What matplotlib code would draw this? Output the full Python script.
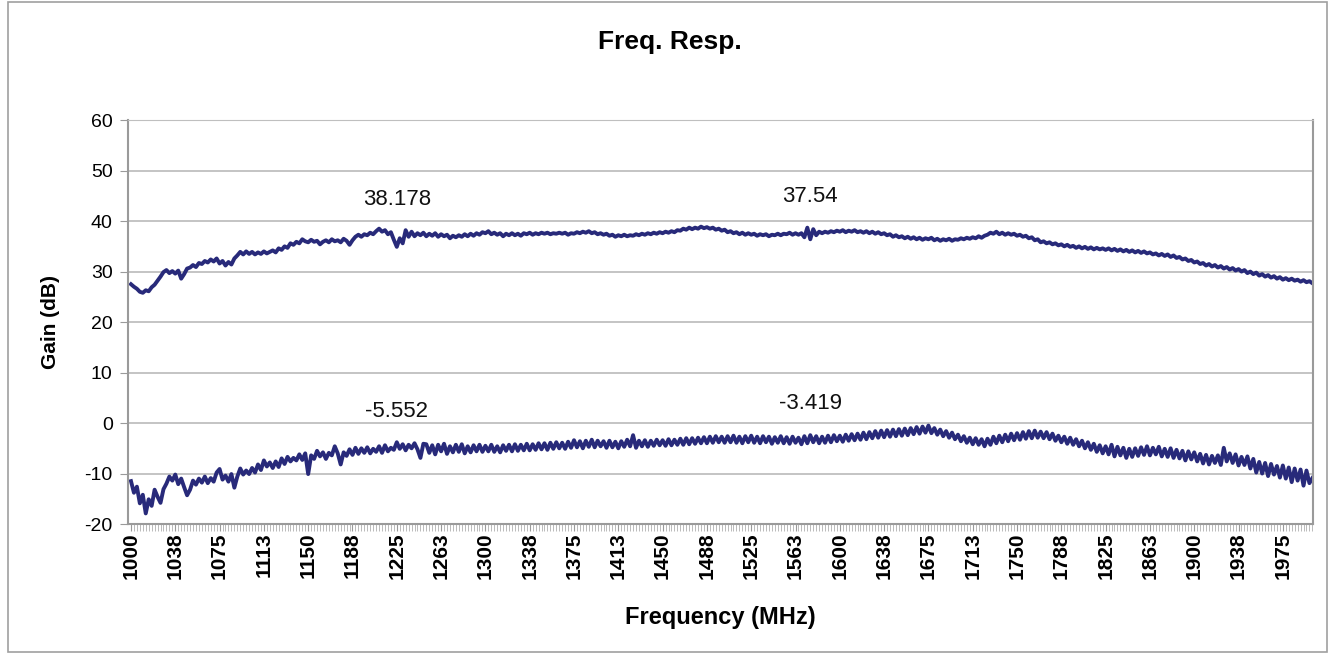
import numpy as np
import matplotlib.pyplot as plt
from matplotlib.patches import Rectangle

plt.rcParams['font.family'] = ['Liberation Sans', 'DejaVu Sans']
plt.rcParams['axes.unicode_minus'] = False

# frequency points (MHz), 2.5 MHz step, 1000..2000
freq = np.arange(1000, 2000.1, 2.5)

# upper trace (dB), one row = 25 MHz
gain_hi = [
    27.5, 27.0, 26.6, 26.0, 25.8, 26.3, 26.1, 26.9, 27.4, 28.2,
    29.0, 29.9, 30.3, 29.7, 30.1, 29.6, 30.2, 28.6, 29.5, 30.6,
    30.8, 31.3, 30.9, 31.7, 31.5, 32.1, 31.8, 32.4, 32.0, 32.6,
    31.6, 32.1, 31.2, 31.9, 31.4, 32.6, 33.2, 33.9, 33.4, 34.0,
    33.5, 33.9, 33.4, 33.8, 33.5, 34.0, 33.6, 33.9, 34.2, 33.8,
    34.6, 34.3, 35.0, 34.7, 35.6, 35.3, 35.9, 35.6, 36.4, 36.0,
    35.8, 36.3, 35.9, 36.1, 35.4, 35.9, 36.2, 35.8, 36.4, 36.0,
    36.2, 35.8, 36.5, 36.1, 35.3, 36.2, 36.9, 37.3, 36.9, 37.4,
    37.2, 37.7, 37.4, 38.0, 38.5, 37.9, 38.2, 37.4, 37.8, 36.3,
    34.9, 36.6, 35.6, 38.2, 36.9, 37.9, 37.0, 37.6, 37.2, 37.7,
    37.0, 37.5, 37.1, 37.6, 36.9, 37.4, 37.0, 37.3, 36.6, 37.1,
    36.8, 37.2, 36.9, 37.4, 37.0, 37.5, 37.1, 37.6, 37.3, 37.8,
    37.6, 38.0, 37.4, 37.7, 37.3, 37.6, 37.0, 37.5, 37.2, 37.6,
    37.2, 37.5, 37.1, 37.6, 37.4, 37.7, 37.3, 37.6, 37.4, 37.7,
    37.5, 37.7, 37.4, 37.6, 37.5, 37.7, 37.5, 37.7, 37.3, 37.6,
    37.5, 37.8, 37.6, 37.9, 37.7, 38.0, 37.6, 37.8, 37.4, 37.6,
    37.3, 37.5, 37.1, 37.3, 36.9, 37.2, 37.0, 37.3, 37.0, 37.2,
    37.1, 37.4, 37.2, 37.5, 37.3, 37.6, 37.4, 37.7, 37.5, 37.8,
    37.6, 37.9, 37.7, 38.0, 37.8, 38.2, 38.1, 38.5, 38.3, 38.7,
    38.4, 38.7, 38.5, 38.9, 38.6, 38.8, 38.5, 38.7, 38.3, 38.5,
    38.1, 38.3, 37.8, 38.0, 37.6, 37.8, 37.4, 37.7, 37.3, 37.6,
    37.3, 37.5, 37.1, 37.4, 37.2, 37.4, 37.0, 37.3, 37.2, 37.5,
    37.2, 37.5, 37.4, 37.7, 37.3, 37.6, 37.3, 37.6, 36.8, 38.7,
    36.4, 38.4, 37.2, 37.9, 37.6, 37.9, 37.7, 38.0, 37.8, 38.1,
    37.9, 38.2, 37.8, 38.1, 37.9, 38.2, 37.8, 38.0, 37.7, 38.0,
    37.6, 37.9, 37.5, 37.8, 37.4, 37.6, 37.2, 37.4, 36.9, 37.2,
    36.8, 37.0, 36.6, 36.9, 36.5, 36.8, 36.4, 36.7, 36.3, 36.6,
    36.4, 36.7, 36.2, 36.5, 36.1, 36.4, 36.2, 36.5, 36.1, 36.4,
    36.3, 36.6, 36.4, 36.7, 36.5, 36.8, 36.6, 37.0, 36.7, 37.1,
    37.3, 37.7, 37.5, 37.9, 37.4, 37.7, 37.3, 37.6, 37.3, 37.5,
    37.1, 37.3, 36.9, 37.1, 36.6, 36.8, 36.2, 36.4, 35.8, 36.0,
    35.6, 35.8, 35.4, 35.6, 35.2, 35.4, 35.0, 35.3, 34.9, 35.1,
    34.7, 35.0, 34.6, 34.9, 34.5, 34.8, 34.4, 34.7, 34.4, 34.6,
    34.3, 34.6, 34.2, 34.5, 34.1, 34.4, 34.0, 34.3, 33.9, 34.2,
    33.8, 34.1, 33.7, 34.0, 33.6, 33.8, 33.4, 33.6, 33.2, 33.5,
    33.1, 33.4, 32.9, 33.2, 32.7, 32.9, 32.4, 32.6, 32.1, 32.3,
    31.8, 32.0, 31.5, 31.7, 31.2, 31.5, 31.0, 31.3, 30.8, 31.1,
    30.6, 30.9, 30.4, 30.7, 30.2, 30.5, 30.0, 30.3, 29.7, 30.0,
    29.5, 29.8, 29.2, 29.5, 29.0, 29.3, 28.8, 29.1, 28.6, 28.9,
    28.4, 28.7, 28.3, 28.6, 28.2, 28.4, 28.0, 28.3, 27.9, 28.1,
    27.7,
]

# lower trace (dB), one row = 25 MHz
gain_lo = [
    -11.5, -13.8, -12.6, -15.9, -14.2, -17.9, -15.1, -16.4, -13.2, -14.6,
    -15.8, -13.1, -12.0, -10.6, -11.4, -10.2, -12.1, -11.0, -12.7, -14.3,
    -13.2, -11.4, -12.2, -11.0, -11.8, -10.6, -11.9, -10.9, -11.6, -9.8,
    -9.1, -11.2, -10.4, -11.6, -10.1, -12.8, -10.6, -9.0, -10.2, -9.4,
    -10.1, -8.9, -9.8, -8.2, -9.3, -7.4, -8.6, -7.8, -8.9, -7.6,
    -8.7, -7.0, -8.1, -6.7, -7.6, -6.9, -7.4, -6.2, -7.3, -6.0,
    -10.1, -6.4, -7.1, -5.5, -6.6, -5.8, -7.1, -5.9, -6.4, -4.6,
    -6.0, -8.2, -5.8, -6.5, -5.2, -6.3, -4.9, -6.1, -5.0, -5.9,
    -4.8, -6.0, -5.1, -5.7, -4.6, -5.9, -4.4, -5.6, -4.9, -5.3,
    -3.8, -5.1, -4.2, -5.4, -4.3, -5.0, -4.0, -5.2, -6.9, -4.1,
    -4.2, -5.9, -4.4, -6.2, -4.3, -5.6, -4.1, -6.1, -4.6, -5.8,
    -4.3, -5.7, -4.2, -6.0, -4.6, -5.8, -4.4, -5.6, -4.3, -5.7,
    -4.5, -5.6, -4.3, -5.7, -4.6, -5.8, -4.4, -5.5, -4.3, -5.6,
    -4.2, -5.5, -4.3, -5.4, -4.1, -5.4, -4.2, -5.3, -4.0, -5.2,
    -4.0, -5.3, -3.9, -5.1, -3.8, -5.0, -3.9, -5.1, -3.7, -4.9,
    -3.4, -4.8, -3.6, -5.0, -3.5, -4.7, -3.3, -4.8, -3.5, -4.6,
    -3.6, -4.9, -3.5, -4.8, -3.7, -5.0, -3.6, -4.7, -3.3, -4.6,
    -2.4, -4.9, -3.5, -4.6, -3.4, -4.7, -3.5, -4.5, -3.3, -4.4,
    -3.4, -4.5, -3.2, -4.4, -3.3, -4.3, -3.1, -4.3, -3.0, -4.2,
    -3.0, -4.1, -2.9, -4.0, -2.8, -4.0, -2.7, -3.9, -2.6, -3.8,
    -2.7, -3.9, -2.6, -3.8, -2.5, -3.9, -2.7, -4.0, -2.6, -3.8,
    -2.5, -3.9, -2.7, -4.0, -2.6, -3.8, -2.7, -4.1, -2.8, -3.9,
    -2.6, -4.0, -2.8, -4.1, -2.7, -3.9, -2.9, -4.2, -2.6, -4.0,
    -2.4, -3.8, -2.6, -4.0, -2.7, -3.9, -2.5, -3.8, -2.4, -3.6,
    -2.5, -3.7, -2.3, -3.5, -2.2, -3.4, -2.1, -3.3, -1.9, -3.2,
    -1.8, -3.0, -1.6, -2.9, -1.5, -2.8, -1.4, -2.7, -1.3, -2.6,
    -1.2, -2.5, -1.1, -2.4, -1.0, -2.2, -0.8, -2.1, -0.7, -1.9,
    -0.5, -2.0, -1.0, -2.3, -1.3, -2.6, -1.6, -2.9, -1.9, -3.2,
    -2.3, -3.6, -2.6, -3.9, -2.9, -4.2, -3.0, -4.3, -3.2, -4.6,
    -3.1, -4.3, -2.7, -4.0, -2.5, -3.8, -2.3, -3.6, -2.1, -3.4,
    -2.0, -3.3, -1.8, -3.1, -1.6, -3.0, -1.5, -2.9, -1.7, -3.0,
    -1.8, -3.2, -2.1, -3.5, -2.5, -3.8, -2.7, -4.1, -2.9, -4.3,
    -3.2, -4.6, -3.5, -5.0, -3.8, -5.3, -4.1, -5.7, -4.4, -6.0,
    -4.6, -6.2, -4.3, -6.6, -4.7, -6.4, -4.9, -6.9, -5.1, -6.7,
    -5.0, -6.5, -4.8, -6.3, -4.6, -6.4, -4.9, -6.2, -4.7, -6.6,
    -5.1, -6.7, -5.0, -6.9, -5.3, -7.0, -5.5, -7.4, -5.6, -7.2,
    -5.8, -7.6, -6.1, -8.0, -6.3, -8.2, -6.5, -7.9, -6.4, -8.3,
    -4.9, -7.6, -6.0, -7.9, -6.2, -8.4, -6.7, -8.3, -6.6, -9.0,
    -7.1, -9.8, -7.7, -10.0, -7.9, -10.5, -8.1, -10.2, -8.5, -10.8,
    -8.4, -11.0, -8.8, -11.7, -9.0, -11.4, -9.2, -12.4, -9.4, -11.9,
    -10.9,
]

# marker readouts
mark_freq = [1225, 1575, 1225, 1575]
mark_gain = [44.2, 44.8, 2.2, 3.8]
mark_text = ['38.178', '37.54', '-5.552', '-3.419']

# category axis labels every 37.5 MHz
tick_pos = [1000 + 37.5 * k for k in range(27)]
tick_labels = ['1000', '1038', '1075', '1113', '1150', '1188', '1225', '1263',
               '1300', '1338', '1375', '1413', '1450', '1488', '1525', '1563',
               '1600', '1638', '1675', '1713', '1750', '1788', '1825', '1863',
               '1900', '1938', '1975']

line_color = '#282A7A'
grid_color = '#BFBFBF'

fig = plt.figure(figsize=(13.35, 6.6), dpi=100)
fig.patches.append(Rectangle((0.006, 0.012), 0.988, 0.985, transform=fig.transFigure,
                             fill=False, edgecolor='#A0A0A0', linewidth=1.2))
ax = fig.add_axes([0.0959, 0.206, 0.8876, 0.612])

ax.plot(freq, gain_hi, color=line_color, linewidth=2.8)
ax.plot(freq, gain_lo, color=line_color, linewidth=2.8)

for f, g, t in zip(mark_freq, mark_gain, mark_text):
    ax.text(f, g, t, ha='center', va='center', fontsize=16, color='#111111')

ax.set_xlim(997.5, 2000.5)
ax.set_ylim(-20, 60)
ax.set_yticks(np.arange(-20, 61, 10))
ax.yaxis.grid(True, color=grid_color, linewidth=1.3)
ax.set_axisbelow(True)

ax.set_xticks(tick_pos)
ax.set_xticklabels(tick_labels, rotation=90, fontweight='bold', fontsize=15)
ax.set_xticks(np.arange(1000, 2001, 2.5), minor=True)
ax.tick_params(axis='x', which='major', length=5, color='#9A9A9A', pad=1)
ax.tick_params(axis='x', which='minor', length=5, color='#B0B0B0', width=0.6)
ax.tick_params(axis='y', length=6, color='#9A9A9A', labelsize=14, pad=5)

for side in ['left', 'bottom', 'right']:
    ax.spines[side].set_color('#9A9A9A')
    ax.spines[side].set_linewidth(1.5)
ax.spines['top'].set_color(grid_color)

fig.text(0.502, 0.936, 'Freq. Resp.', ha='center', va='center',
         fontsize=19, fontweight='bold')
fig.text(0.5397, 0.064, 'Frequency (MHz)', ha='center', va='center',
         fontsize=17, fontweight='bold')
fig.text(0.0375, 0.512, 'Gain (dB)', ha='center', va='center', rotation=90,
         fontsize=15, fontweight='bold')

fig.savefig('out.png', dpi=100)
